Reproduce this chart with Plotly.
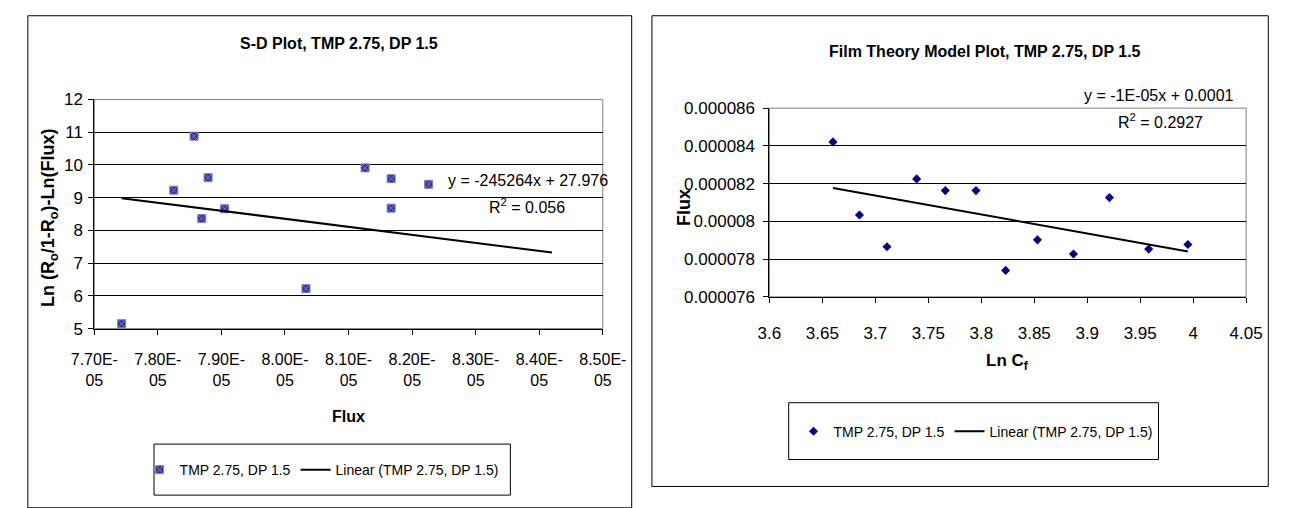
import plotly.graph_objects as go

W, H = 1300, 508

# ---------------- data: S-D plot (left) ----------------
sd_flux = [7.743e-05, 7.825e-05, 7.857e-05, 7.869e-05, 7.879e-05, 7.905e-05,
           8.033e-05, 8.126e-05, 8.167e-05, 8.167e-05, 8.226e-05]
sd_y = [5.15, 9.23, 10.88, 8.36, 9.61, 8.66, 6.22, 9.91, 9.58, 8.68, 9.41]
sd_trend_slope = -245264
sd_trend_intercept = 27.976
sd_trend_x = [7.743e-05, 8.42e-05]
sd_xticks = [7.7e-05, 7.8e-05, 7.9e-05, 8.0e-05, 8.1e-05, 8.2e-05, 8.3e-05, 8.4e-05, 8.5e-05]
sd_xticktext = ["7.70E-<br>05", "7.80E-<br>05", "7.90E-<br>05", "8.00E-<br>05", "8.10E-<br>05",
                "8.20E-<br>05", "8.30E-<br>05", "8.40E-<br>05", "8.50E-<br>05"]
sd_yticks = [5, 6, 7, 8, 9, 10, 11, 12]

# ---------------- data: Film theory (right) ----------------
ft_lncf = [3.660, 3.685, 3.711, 3.739, 3.766, 3.795, 3.823, 3.853, 3.887, 3.921, 3.958, 3.995]
ft_flux = [84.21e-6, 80.34e-6, 78.65e-6, 82.25e-6, 81.63e-6, 81.63e-6, 77.40e-6,
           79.02e-6, 78.27e-6, 81.26e-6, 78.53e-6, 78.77e-6]
ft_trend_slope = -1.006e-05
ft_trend_intercept = 1.1859e-04
ft_trend_x = [3.660, 3.995]
ft_xticks = [3.6, 3.65, 3.7, 3.75, 3.8, 3.85, 3.9, 3.95, 4.0, 4.05]
ft_xticktext = ["3.6", "3.65", "3.7", "3.75", "3.8", "3.85", "3.9", "3.95", "4", "4.05"]
ft_yticks = [76e-6, 78e-6, 80e-6, 82e-6, 84e-6, 86e-6]
ft_yticktext = ["0.000076", "0.000078", "0.00008", "0.000082", "0.000084", "0.000086"]

series_name = "TMP 2.75, DP 1.5"
trend_name = "Linear (TMP 2.75, DP 1.5)"

FONT = "Liberation Sans, Arial, sans-serif"


def px(x):
    return x / W


def py(y):
    return 1 - y / H


fig = go.Figure()

fig.add_trace(go.Scatter(
    x=sd_flux, y=sd_y, mode="markers", name=series_name,
    marker=dict(symbol="square-x", size=8, color="#333399",
                line=dict(color="#8080c0", width=1)),
    xaxis="x", yaxis="y", legend="legend"))
fig.add_trace(go.Scatter(
    x=sd_trend_x, y=[sd_trend_slope * v + sd_trend_intercept for v in sd_trend_x],
    mode="lines", name=trend_name, line=dict(color="black", width=2),
    xaxis="x", yaxis="y", legend="legend"))

fig.add_trace(go.Scatter(
    x=ft_lncf, y=ft_flux, mode="markers", name=series_name,
    marker=dict(symbol="diamond", size=7, color="#000080"),
    xaxis="x2", yaxis="y2", legend="legend2"))
fig.add_trace(go.Scatter(
    x=ft_trend_x, y=[ft_trend_slope * v + ft_trend_intercept for v in ft_trend_x],
    mode="lines", name=trend_name, line=dict(color="black", width=2),
    xaxis="x2", yaxis="y2", legend="legend2"))

axis_common = dict(showline=True, linecolor="black", linewidth=1, ticks="outside",
                   ticklen=5, tickcolor="black", zeroline=False)

# left plot: x 73..601, y 94..332 ; right plot: x 774..1269, y 103..299
fig.update_layout(
    xaxis=dict(domain=[px(73), px(601)], range=[7.7e-05, 8.5e-05], tickvals=sd_xticks,
               ticktext=sd_xticktext, showgrid=False, anchor="y",
               tickfont=dict(family=FONT, size=16, color="black"),
               ticklabelstandoff=11, **axis_common),
    yaxis=dict(domain=[py(332), py(94)], range=[5, 12], tickvals=sd_yticks,
               showgrid=True, gridcolor="black", gridwidth=1, anchor="x",
               tickfont=dict(family=FONT, size=17, color="black"),
               ticklabelstandoff=2, **axis_common),
    xaxis2=dict(domain=[px(774), px(1269)], range=[3.6, 4.05], tickvals=ft_xticks,
                ticktext=ft_xticktext, showgrid=False, anchor="y2",
                tickfont=dict(family=FONT, size=17, color="black"),
                ticklabelstandoff=16, **axis_common),
    yaxis2=dict(domain=[py(299), py(103)], range=[76e-6, 86e-6], tickvals=ft_yticks,
                ticktext=ft_yticktext, showgrid=True, gridcolor="black", gridwidth=1,
                anchor="x2", tickfont=dict(family=FONT, size=17, color="black"),
                ticklabelstandoff=5, **axis_common),
)

shapes = [
    # panel borders
    dict(type="rect", xref="paper", yref="paper", x0=px(4), x1=px(631), y0=-0.02, y1=py(7),
         line=dict(color="black", width=1), fillcolor="rgba(0,0,0,0)"),
    dict(type="rect", xref="paper", yref="paper", x0=px(652), x1=px(1292), y0=py(496), y1=py(7),
         line=dict(color="black", width=1), fillcolor="rgba(0,0,0,0)"),
    # plot-area borders (grey)
    dict(type="rect", xref="x domain", yref="y domain", x0=0, x1=1, y0=0, y1=1,
         line=dict(color="#808080", width=1), layer="below"),
    dict(type="rect", xref="x2 domain", yref="y2 domain", x0=0, x1=1, y0=0, y1=1,
         line=dict(color="#808080", width=1), layer="below"),
    # legend boxes
    dict(type="rect", xref="paper", yref="paper", x0=px(135), x1=px(505), y0=py(505), y1=py(452),
         line=dict(color="black", width=1)),
    dict(type="rect", xref="paper", yref="paper", x0=px(794), x1=px(1178), y0=py(468), y1=py(409),
         line=dict(color="black", width=1)),
]

legend_common = dict(orientation="h", xanchor="center", yanchor="middle",
                     bgcolor="rgba(0,0,0,0)", borderwidth=0,
                     font=dict(family=FONT, size=14, color="black"), itemwidth=30)

fig.update_layout(
    legend=dict(x=px(309), y=py(479), **legend_common),
    legend2=dict(x=px(988), y=py(439), **legend_common),
)

annotations = [
    dict(text="<b>S-D Plot, TMP 2.75, DP 1.5</b>", x=px(327), y=py(36), xref="paper", yref="paper",
         showarrow=False, font=dict(family=FONT, size=16, color="black"),
         xanchor="center", yanchor="middle"),
    dict(text="<b>Film Theory Model Plot, TMP 2.75, DP 1.5</b>", x=px(998), y=py(44),
         xref="paper", yref="paper", showarrow=False,
         font=dict(family=FONT, size=16, color="black"),
         xanchor="center", yanchor="middle"),
    dict(text="<b>Ln (R<sub>o</sub>/1-R<sub>o</sub>)-Ln(Flux)</b>", x=px(27), y=py(217),
         xref="paper", yref="paper", showarrow=False, textangle=-90,
         font=dict(family=FONT, size=18, color="black"),
         xanchor="center", yanchor="middle"),
    dict(text="<b>Flux</b>", x=px(337), y=py(423), xref="paper", yref="paper", showarrow=False,
         font=dict(family=FONT, size=16, color="black"), xanchor="center", yanchor="middle"),
    dict(text="<b>Flux</b>", x=px(686), y=py(206), xref="paper", yref="paper", showarrow=False,
         textangle=-90, font=dict(family=FONT, size=18, color="black"),
         xanchor="center", yanchor="middle"),
    dict(text="<b>Ln C<sub>f</sub></b>", x=px(1021), y=py(367), xref="paper", yref="paper",
         showarrow=False, font=dict(family=FONT, size=17, color="black"),
         xanchor="center", yanchor="middle"),
    dict(text="y = -245264x + 27.976", x=px(523), y=py(178), xref="paper", yref="paper",
         showarrow=False, font=dict(family=FONT, size=16, color="black"),
         xanchor="center", yanchor="middle"),
    dict(text="R<sup>2</sup> = 0.056", x=px(522), y=py(205), xref="paper", yref="paper",
         showarrow=False, font=dict(family=FONT, size=16, color="black"),
         xanchor="center", yanchor="middle"),
    dict(text="y = -1E-05x + 0.0001", x=px(1179), y=py(90), xref="paper", yref="paper",
         showarrow=False, font=dict(family=FONT, size=16, color="black"),
         xanchor="center", yanchor="middle"),
    dict(text="R<sup>2</sup> = 0.2927", x=px(1180), y=py(116), xref="paper", yref="paper",
         showarrow=False, font=dict(family=FONT, size=16, color="black"),
         xanchor="center", yanchor="middle"),
]

fig.update_layout(
    width=W, height=H, margin=dict(l=0, r=0, t=0, b=0),
    paper_bgcolor="white", plot_bgcolor="white",
    shapes=shapes, annotations=annotations,
    font=dict(family=FONT, color="black"),
)

fig.write_html("out.html")
